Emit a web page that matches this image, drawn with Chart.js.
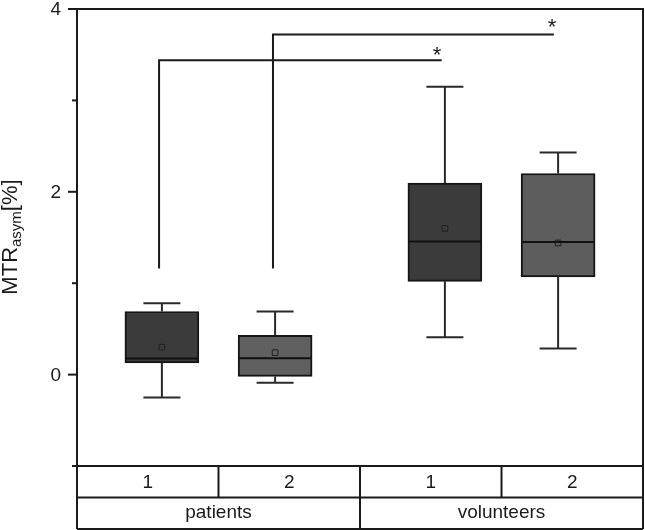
<!DOCTYPE html>
<html><head><meta charset="utf-8">
<script src="https://cdn.jsdelivr.net/npm/chart.js@4.4.1/dist/chart.umd.min.js"></script>
<style>html,body{margin:0;padding:0;background:#fff}</style>
</head><body>
<canvas id="c" width="645" height="530"></canvas>
<script>
// ---- data ----
const groups = ['patients', 'volunteers'];
const subLabels = ['1', '2', '1', '2'];
const positions = [0.6, 1.4, 2.6, 3.4];
const whiskerLow = [-0.25, -0.09, 0.41, 0.285];
const q1 = [0.128, -0.02, 1.02, 1.07];
const median = [0.175, 0.18, 1.457, 1.45];
const q3 = [0.69, 0.43, 2.095, 2.20];
const whiskerHigh = [0.78, 0.69, 3.15, 2.43];
const means = [0.30, 0.24, 1.60, 1.44];
const boxColors = ['#3b3b3b', '#606060', '#3b3b3b', '#5d5d5d'];
const yTicks = [-1, 0, 1, 2, 3, 4];
const yLabeled = [0, 2, 4];
const bracket1 = [{x: 0.58, y: 1.16}, {x: 0.58, y: 3.44}, {x: 2.577, y: 3.44}];
const bracket2 = [{x: 1.385, y: 1.16}, {x: 1.385, y: 3.72}, {x: 3.37, y: 3.72}];
const stars = [{x: 2.544, y: 3.56}, {x: 3.357, y: 3.86}];

const FONT = "'Liberation Sans', Arial, sans-serif";
const INK = '#1a1a1a';

const decor = {
  id: 'decor',
  afterDatasetsDraw(chart) {
    const ctx = chart.ctx, xs = chart.scales.x, ys = chart.scales.y;
    ctx.save();
    // whiskers and medians
    const capHalf = 18.5, boxHalf = 37;
    for (let i = 0; i < positions.length; i++) {
      const px = xs.getPixelForValue(positions[i]);
      ctx.strokeStyle = '#2a2a2a';
      ctx.lineWidth = 2;
      ctx.beginPath();
      ctx.moveTo(px, ys.getPixelForValue(q3[i]));
      ctx.lineTo(px, ys.getPixelForValue(whiskerHigh[i]));
      ctx.moveTo(px, ys.getPixelForValue(q1[i]));
      ctx.lineTo(px, ys.getPixelForValue(whiskerLow[i]));
      const yh = ys.getPixelForValue(whiskerHigh[i]);
      const yl = ys.getPixelForValue(whiskerLow[i]);
      ctx.moveTo(px - capHalf, yh); ctx.lineTo(px + capHalf, yh);
      ctx.moveTo(px - capHalf, yl); ctx.lineTo(px + capHalf, yl);
      ctx.stroke();
      ctx.strokeStyle = '#111';
      ctx.beginPath();
      const ym = ys.getPixelForValue(median[i]);
      ctx.moveTo(px - boxHalf + 1, ym); ctx.lineTo(px + boxHalf - 1, ym);
      ctx.stroke();
    }
    // stars
    ctx.fillStyle = INK;
    ctx.font = '22px ' + FONT;
    ctx.textAlign = 'center';
    ctx.textBaseline = 'alphabetic';
    stars.forEach(s => {
      ctx.fillText('*', xs.getPixelForValue(s.x), ys.getPixelForValue(s.y) + 12.5);
    });
    ctx.restore();
  },
  afterDraw(chart) {
    const ctx = chart.ctx, xs = chart.scales.x, ys = chart.scales.y;
    const ca = chart.chartArea;
    ctx.save();
    ctx.strokeStyle = INK;
    ctx.lineWidth = 2;
    // frame
    ctx.strokeRect(ca.left, ca.top, ca.right - ca.left, ca.bottom - ca.top);
    // y ticks and labels
    ctx.fillStyle = INK;
    ctx.font = '19px ' + FONT;
    ctx.textAlign = 'right';
    ctx.textBaseline = 'middle';
    yTicks.forEach(v => {
      const py = ys.getPixelForValue(v);
      const major = yLabeled.includes(v);
      const len = major ? 9 : 5;
      ctx.beginPath();
      ctx.moveTo(ca.left - len, py); ctx.lineTo(ca.left, py);
      ctx.stroke();
      if (major) ctx.fillText(String(v), ca.left - 16, py + 1);
    });
    // table below
    const r1 = ca.bottom, r2 = ca.bottom + 31.5, r3 = ca.bottom + 63;
    ctx.beginPath();
    ctx.moveTo(ca.left, r2); ctx.lineTo(ca.right, r2);
    ctx.moveTo(ca.left, r3); ctx.lineTo(ca.right, r3);
    ctx.moveTo(ca.left, r1); ctx.lineTo(ca.left, r3);
    ctx.moveTo(ca.right, r1); ctx.lineTo(ca.right, r3);
    [1, 3].forEach(v => {
      const px = xs.getPixelForValue(v);
      ctx.moveTo(px, r1); ctx.lineTo(px, r2);
    });
    const pg = xs.getPixelForValue(2);
    ctx.moveTo(pg, r1); ctx.lineTo(pg, r3);
    ctx.stroke();
    ctx.textAlign = 'center';
    subLabels.forEach((t, i) => {
      ctx.fillText(t, xs.getPixelForValue(i + 0.5), (r1 + r2) / 2 + 1);
    });
    groups.forEach((t, i) => {
      ctx.fillText(t, xs.getPixelForValue(i * 2 + 1), (r2 + r3) / 2);
    });
    // y title
    ctx.translate(17, 237);
    ctx.rotate(-Math.PI / 2);
    ctx.textAlign = 'left';
    ctx.textBaseline = 'alphabetic';
    const big = '22px ' + FONT, small = '15px ' + FONT;
    ctx.font = big; const w1 = ctx.measureText('MTR').width; const w3 = ctx.measureText('[%]').width;
    ctx.font = small; const w2 = ctx.measureText('asym').width;
    let x0 = -(w1 + w2 + w3) / 2;
    ctx.font = big; ctx.fillText('MTR', x0, 0);
    ctx.font = small; ctx.fillText('asym', x0 + w1, 4);
    ctx.font = big; ctx.fillText('[%]', x0 + w1 + w2, 0);
    ctx.restore();
  }
};

new Chart(document.getElementById('c'), {
  type: 'bar',
  data: {
    datasets: [
      {
        type: 'bar',
        data: positions.map((x, i) => ({x: x, y: [q1[i], q3[i]]})),
        backgroundColor: boxColors,
        borderColor: '#151515',
        borderWidth: 2,
        borderSkipped: false,
        barThickness: 74,
        order: 3
      },
      {
        type: 'scatter',
        data: positions.map((x, i) => ({x: x, y: means[i]})),
        pointStyle: 'rect',
        pointRadius: 4,
        backgroundColor: 'rgba(0,0,0,0)',
        borderColor: '#222',
        borderWidth: 1,
        order: 1
      },
      {
        type: 'line',
        data: bracket1,
        borderColor: INK,
        borderWidth: 2,
        pointRadius: 0,
        fill: false,
        order: 2
      },
      {
        type: 'line',
        data: bracket2,
        borderColor: INK,
        borderWidth: 2,
        pointRadius: 0,
        fill: false,
        order: 2
      }
    ]
  },
  options: {
    responsive: false,
    animation: false,
    layout: {autoPadding: false, padding: {left: 77, right: 2, top: 9, bottom: 64}},
    plugins: {legend: {display: false}, tooltip: {enabled: false}},
    scales: {
      x: {type: 'linear', min: 0, max: 4, offset: false, display: false},
      y: {type: 'linear', min: -1, max: 4, display: false}
    }
  },
  plugins: [decor]
});
</script>
</body></html>
